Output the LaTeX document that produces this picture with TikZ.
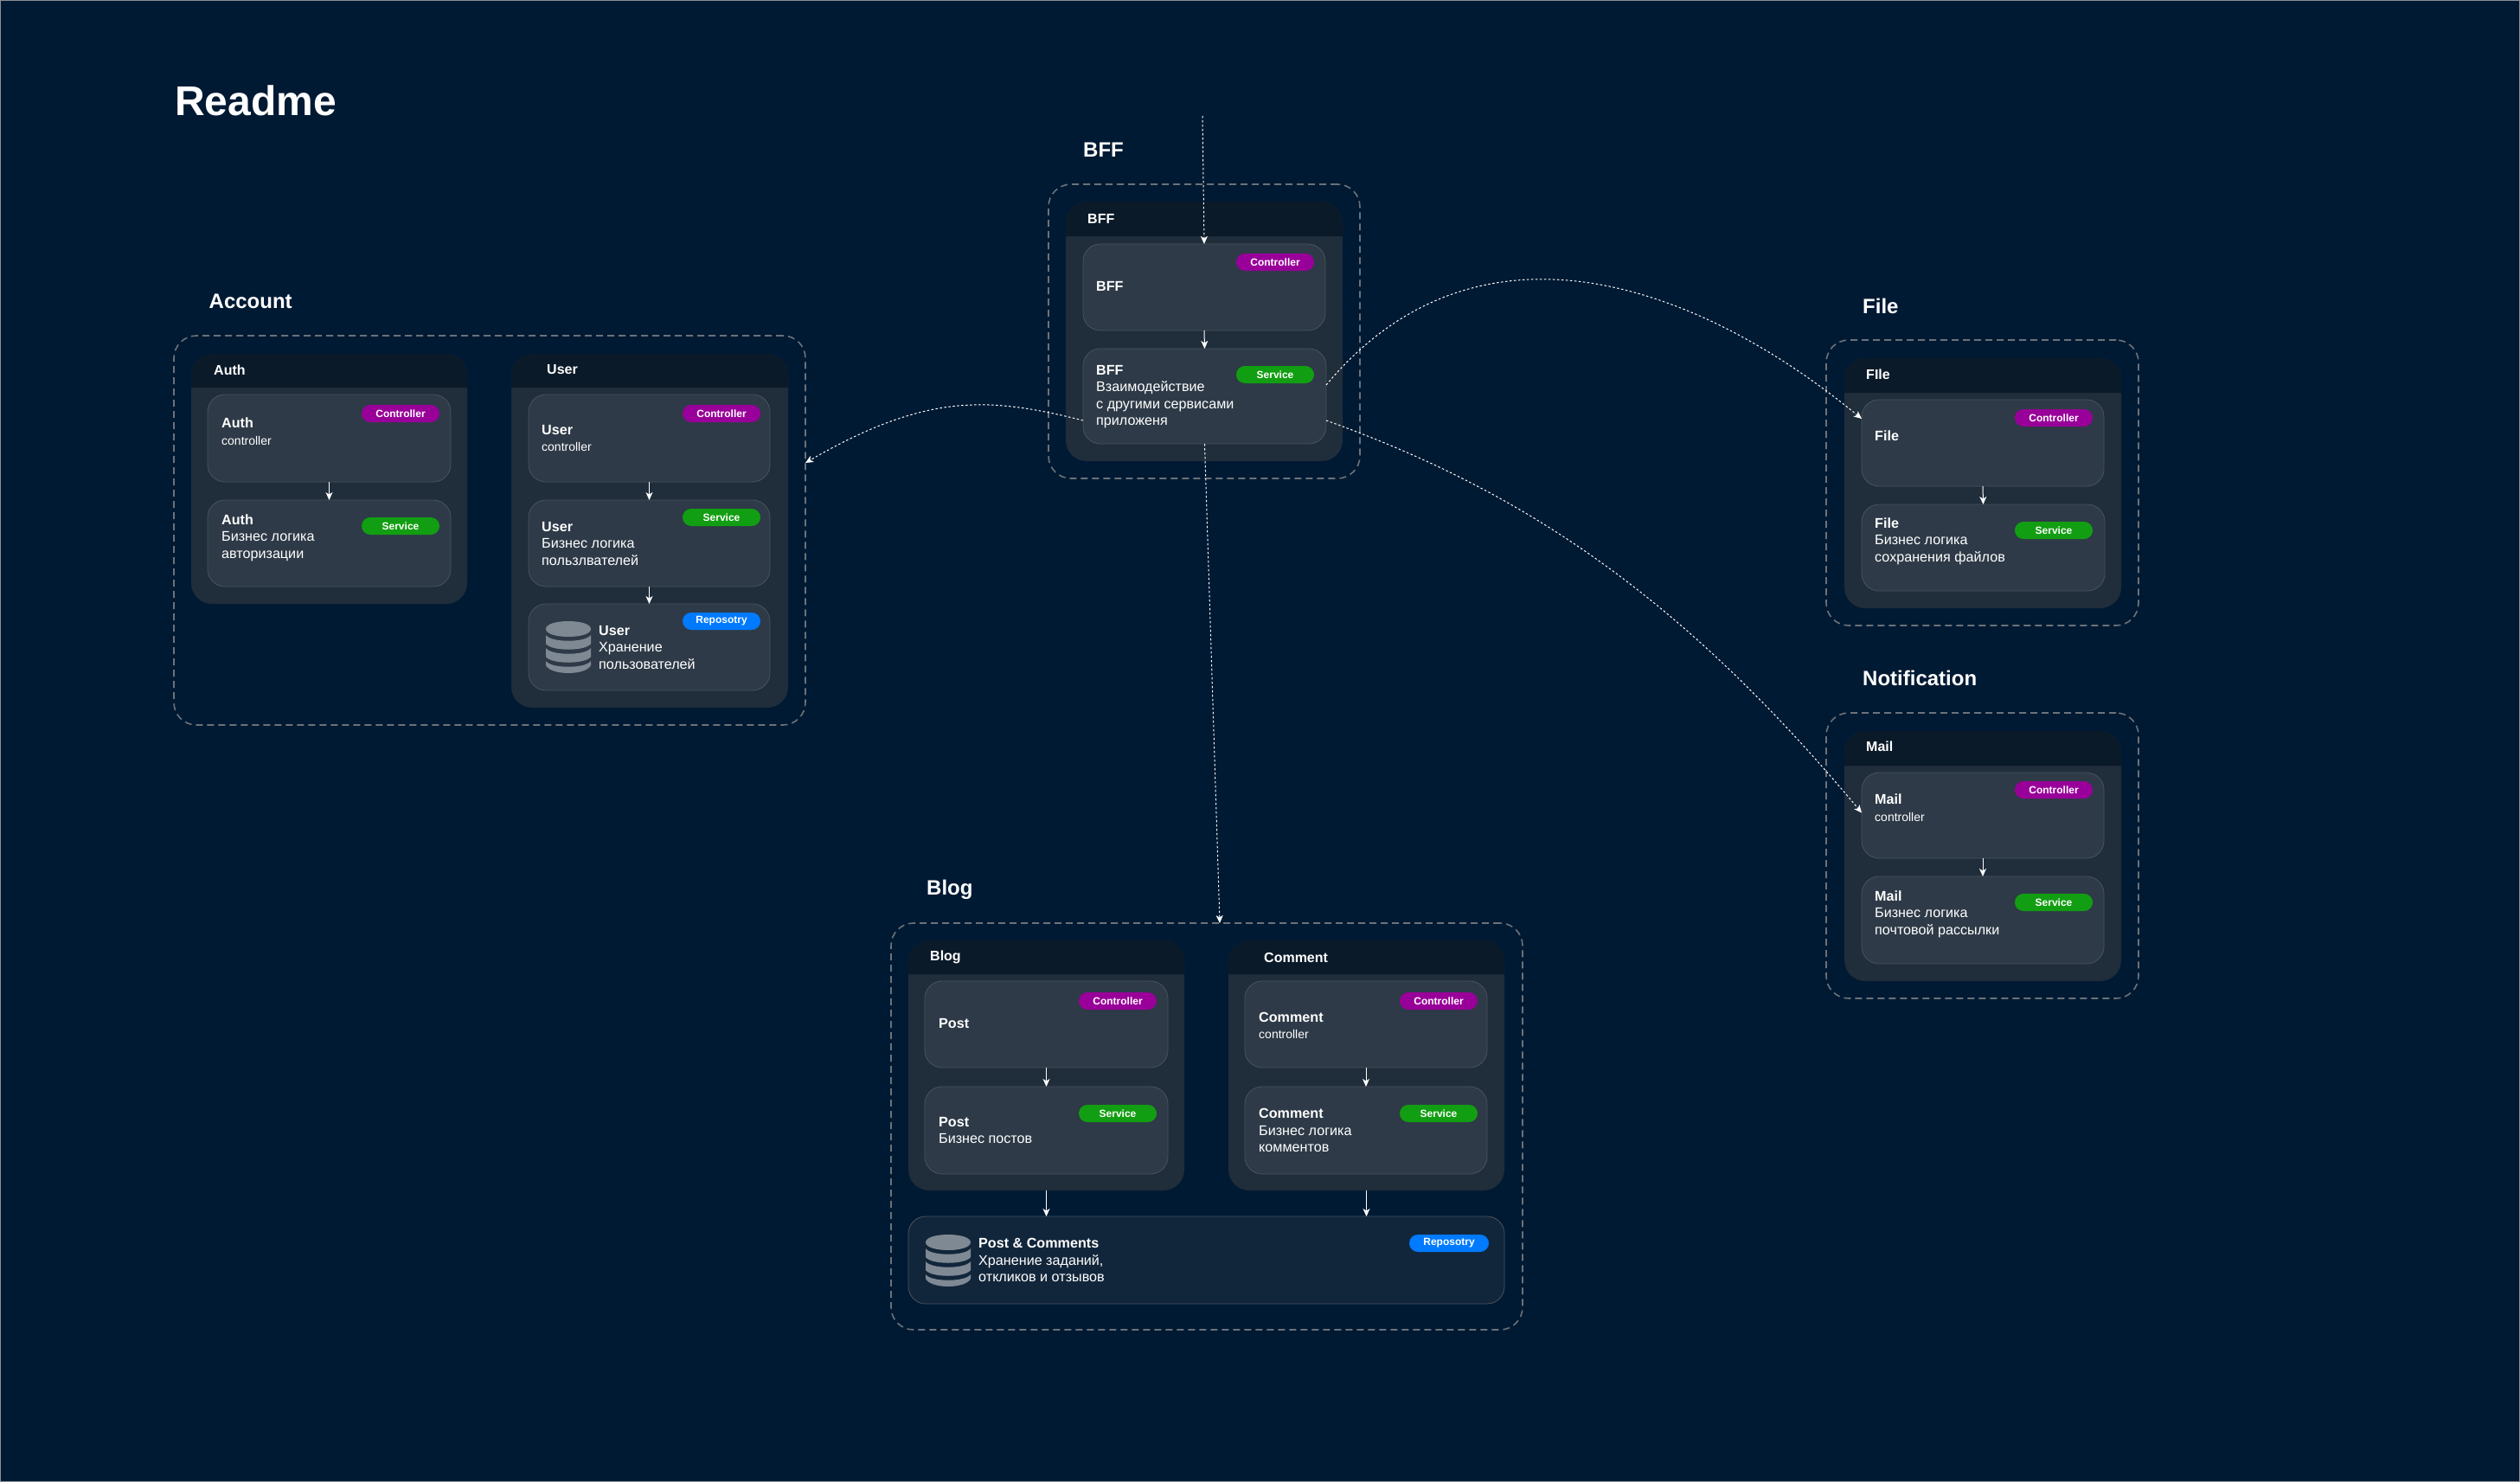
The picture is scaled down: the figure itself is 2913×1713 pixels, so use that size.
\documentclass[tikz,border=0pt]{standalone}
\usepackage{fontspec}
\setmainfont{Liberation Sans}
\usetikzlibrary{arrows.meta,calc}
\definecolor{bgc}{HTML}{001A33}
\definecolor{edgec}{HTML}{8A8F94}
\definecolor{panelc}{HTML}{202D3A}
\definecolor{headc}{HTML}{0B1A29}
\definecolor{boxc}{HTML}{2E3A47}
\definecolor{boxline}{HTML}{4A535E}
\definecolor{repoc}{HTML}{12263B}
\definecolor{zonec}{HTML}{6B7279}
\definecolor{ctrlc}{HTML}{990099}
\definecolor{svcc}{HTML}{129E12}
\definecolor{repobc}{HTML}{007AFF}
\definecolor{dbc}{HTML}{7F8993}
\tikzset{
  x=1pt,y=-1pt,
  zone/.style={draw=zonec,line width=1.6pt,dash pattern=on 8pt off 5pt,rounded corners=26pt,anchor=north west,inner sep=0pt,outer sep=0pt},
  panelbody/.style={fill=panelc,draw=none,rounded corners=24pt,anchor=north west,inner sep=0pt,outer sep=0pt},
  headbar/.style={fill=headc,draw=none,rounded corners=24pt},
  card/.style={fill=boxc,draw=boxline,line width=0.8pt,rounded corners=20pt,anchor=north west,inner sep=0pt,outer sep=0pt},
  repocard/.style={card,fill=repoc,draw=boxline},
  badge/.style={rounded corners=10pt,anchor=north west,inner sep=0pt,outer sep=0pt,text=white,font=\fontsize{12}{12}\selectfont\bfseries,minimum height=20pt,minimum width=90pt},
  ctrl/.style={badge,fill=ctrlc},
  svc/.style={badge,fill=svcc},
  repob/.style={badge,fill=repobc},
  title/.style={anchor=west,inner sep=0pt,yshift=-0.5pt,text=white,font=\fontsize{24}{24}\selectfont\bfseries},
  headtxt/.style={anchor=west,inner sep=0pt,yshift=-0.5pt,text=white,font=\fontsize{16}{16}\selectfont\bfseries},
  body/.style={anchor=west,inner sep=0pt,yshift=-0.5pt,text=white,align=left,font=\fontsize{16.15}{19.5}\selectfont},
  link/.style={draw=white,line width=1pt,-{Stealth[length=9pt,width=8pt,inset=2.5pt]}},
  dot/.style={link,line width=1pt,dash pattern=on 2.5pt off 2.5pt},
}
\newcommand{\smalltxt}[1]{{\fontsize{14}{19.5}\selectfont #1}}
\newcommand{\panel}[6]{%
  \node[panelbody,minimum width=#4-#2,minimum height=#5-#3] (#1) at (#2,#3) {};
  \fill[headbar] (#2,#6) -- (#2,#3) -- (#4,#3) -- (#4,#6);
}
\newcommand{\dbicon}[3]{%
  % #1 = name, #2 = left x, #3 = top y
  \begin{scope}[shift={(#2,#3)}]
    \node[inner sep=0pt,minimum width=52pt,minimum height=60pt,anchor=north west] (#1) at (0,0) {};
    \fill[dbc] (0,9) .. controls (0,-3) and (52,-3) .. (52,9) .. controls (52,21) and (0,21) .. (0,9) -- cycle;
    \fill[dbc] (0,16) .. controls (6,25) and (46,25) .. (52,16) -- (52,26) .. controls (46,35) and (6,35) .. (0,26) -- cycle;
    \fill[dbc] (0,31) .. controls (6,40) and (46,40) .. (52,31) -- (52,41) .. controls (46,50) and (6,50) .. (0,41) -- cycle;
    \fill[dbc] (0,46) .. controls (6,55) and (46,55) .. (52,46) -- (52,51) .. controls (46,63) and (6,63) .. (0,51) -- cycle;
  \end{scope}
}
\begin{document}
\begin{tikzpicture}
\path[use as bounding box,fill=bgc] (0,0) rectangle (2913,1713);
\draw[edgec,line width=1pt] (0.5,0.5) rectangle (2912.5,1712.5);

\node[title,font=\fontsize{48}{48}\selectfont\bfseries] (readme) at (202,116) {Readme};
\node[title] (tbff) at (1252,173) {BFF};
\node[title] (tacc) at (241.5,348) {Account};
\node[title] (tfile) at (2153,353) {File};
\node[title] (tnote) at (2153,783) {Notification};
\node[title] (tblog) at (1071,1028) {Blog};

% zones
\node[zone,minimum width=360pt,minimum height=340pt] (zbff) at (1212,213) {};
\node[zone,minimum width=730pt,minimum height=450pt] (zacc) at (201,388) {};
\node[zone,minimum width=361pt,minimum height=330pt] (zfile) at (2111,393) {};
\node[zone,minimum width=361pt,minimum height=330pt] (zmail) at (2111,824) {};
\node[zone,minimum width=730pt,minimum height=470pt] (zblog) at (1030,1067) {};

% panels
\panel{pbff}{1232}{233}{1552}{533}{273}
\panel{pauth}{221}{409}{540}{698}{448}
\panel{puser}{591}{409}{911}{818}{448}
\panel{pfile}{2132}{414}{2452}{703}{454}
\panel{pmail}{2132}{845}{2452}{1134}{885}
\panel{pblog}{1050}{1087}{1369}{1376}{1126}
\panel{pcomm}{1420}{1087}{1739}{1376}{1126}

% headers
\node[headtxt] (hbff) at (1257,252) {BFF};
\node[headtxt] (hauth) at (247,427) {Auth};
\node[headtxt] (huser) at (632,427) {User};
\node[headtxt] (hfile) at (2157,432) {FIle};
\node[headtxt] (hmail) at (2157,862) {Mail};
\node[headtxt] (hblog) at (1075,1106) {Blog};
\node[headtxt] (hcomm) at (1461,1106) {Comment};

% cards
\node[card,minimum width=280pt,minimum height=100pt] (bff1) at (1252,282) {};
\node[card,minimum width=281pt,minimum height=110pt] (bff2) at (1252,403) {};
\node[card,minimum width=281pt,minimum height=101pt] (auth1) at (240,456) {};
\node[card,minimum width=281pt,minimum height=100pt] (auth2) at (240,578) {};
\node[card,minimum width=279pt,minimum height=101pt] (user1) at (611,456) {};
\node[card,minimum width=279pt,minimum height=100pt] (user2) at (611,578) {};
\node[card,minimum width=279pt,minimum height=100pt] (user3) at (611,698) {};
\node[card,minimum width=280pt,minimum height=100pt] (file1) at (2152,462) {};
\node[card,minimum width=281pt,minimum height=100pt] (file2) at (2152,583) {};
\node[card,minimum width=280pt,minimum height=99pt] (mail1) at (2152,893) {};
\node[card,minimum width=280pt,minimum height=101pt] (mail2) at (2152,1013) {};
\node[card,minimum width=281pt,minimum height=100pt] (post1) at (1069,1134) {};
\node[card,minimum width=281pt,minimum height=101pt] (post2) at (1069,1256) {};
\node[card,minimum width=280pt,minimum height=100pt] (comm1) at (1439,1134) {};
\node[card,minimum width=280pt,minimum height=101pt] (comm2) at (1439,1256) {};
\node[repocard,minimum width=689pt,minimum height=101pt] (repo) at (1050,1406) {};

% badges
\node[ctrl] (b1) at (1429,293) {Controller};
\node[svc] (b2) at (1429,423) {Service};
\node[ctrl] (b3) at (418,468) {Controller};
\node[svc] (b4) at (418,598) {Service};
\node[ctrl] (b5) at (789,468) {Controller};
\node[svc] (b6) at (789,588) {Service};
\node[repob] (b7) at (789,708) {Reposotry};
\node[ctrl] (b8) at (2329,473) {Controller};
\node[svc] (b9) at (2329,603) {Service};
\node[ctrl] (b10) at (2329,903) {Controller};
\node[svc] (b11) at (2329,1033) {Service};
\node[ctrl] (b12) at (1247,1147) {Controller};
\node[svc] (b13) at (1247,1277) {Service};
\node[ctrl] (b14) at (1618,1147) {Controller};
\node[svc] (b15) at (1618,1277) {Service};
\node[repob,minimum width=92pt] (b16) at (1629,1427) {Reposotry};

% card texts
\node[body] (t1) at (1267,330) {\textbf{BFF}};
\node[body] (t2) at (1267,458) {\textbf{BFF}\\Взаимодействие\\с другими сервисами\\приложеня};
\node[body] (t3) at (256,498) {\textbf{Auth}\\\smalltxt{controller}};
\node[body] (t4) at (256,621) {\textbf{Auth}\\Бизнес логика\\авторизации};
\node[body] (t5) at (626,506) {\textbf{User}\\\smalltxt{controller}};
\node[body] (t6) at (626,628) {\textbf{User}\\Бизнес логика\\пользлвателей};
\node[body] (t7) at (692,748) {\textbf{User}\\Хранение\\пользователей};
\node[body] (t8) at (2167,503) {\textbf{File}};
\node[body] (t9) at (2167,625) {\textbf{File}\\Бизнес логика\\сохранения файлов};
\node[body] (t10) at (2167,933) {\textbf{Mail}\\\smalltxt{controller}};
\node[body] (t11) at (2167,1056) {\textbf{Mail}\\Бизнес логика\\почтовой рассылки};
\node[body] (t12) at (1085,1183) {\textbf{Post}};
\node[body] (t13) at (1085,1306) {\textbf{Post}\\Бизнес постов};
\node[body] (t14) at (1455,1185) {\textbf{Comment}\\\smalltxt{controller}};
\node[body] (t15) at (1455,1306) {\textbf{Comment}\\Бизнес логика\\комментов};
\node[body] (t16) at (1131,1456) {\textbf{Post \& Comments}\\Хранение заданий,\\откликов и отзывов};

\dbicon{db1}{631}{718}
\dbicon{db2}{1070}{1427}

% solid connectors
\draw[link] (bff1.south) -- (bff2.north);
\draw[link] (auth1.south) -- (auth2.north);
\draw[link] (user1.south) -- (user2.north);
\draw[link] (user2.south) -- (user3.north);
\draw[link] (file1.south) -- (file2.north);
\draw[link] (mail1.south) -- (mail2.north);
\draw[link] (post1.south) -- (post2.north);
\draw[link] (comm1.south) -- (comm2.north);
\draw[link] (pblog.south) -- (pblog.south |- repo.north);
\draw[link] (pcomm.south) -- (pcomm.south |- repo.north);

% dotted connectors
\coordinate (entry) at (1390,134);
\draw[dot] (entry) -- (bff1.north);
\draw[dot] (bff2.south) -- ([xshift=15pt]zblog.north);
\draw[dot] ([yshift=-28pt]bff2.west) .. controls (1142,458.5) and (1071,454) .. ([yshift=78pt]zacc.east);
\draw[dot] ([yshift=13pt]bff2.east) .. controls (1703,241) and (1952,320) .. ([yshift=28pt]file1.west);
\draw[dot] ([yshift=-28pt]bff2.east) .. controls (1773,572) and (1952,700) .. ([yshift=3pt]mail1.west);
\end{tikzpicture}
\end{document}
